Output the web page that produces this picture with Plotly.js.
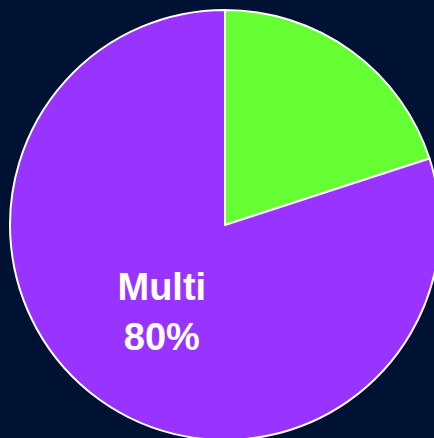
<!DOCTYPE html>
<html>
<head>
<meta charset="utf-8">
<script src="https://cdn.plot.ly/plotly-3.0.1.min.js"></script>
<style>
html,body{margin:0;padding:0;overflow:hidden;background:#001233;width:434px;height:438px;}
#chart{width:450px;height:450px;}
</style>
</head>
<body>
<div id="chart"></div>
<script>
var labels = ["Single", "Multi"];
var values = [20, 80];
var colors = ["#66FF33", "#9933FF"];
var textTemplates = ["", "%{label}<br>%{percent}"];

Plotly.newPlot("chart", [{
  type: "pie",
  labels: labels,
  values: values,
  sort: false,
  direction: "clockwise",
  rotation: 0,
  marker: {colors: colors, line: {color: "#FFFFFF", width: 2}},
  texttemplate: textTemplates,
  textposition: "inside",
  insidetextfont: {family: "Liberation Sans, Arial, sans-serif", size: 38, color: "#FFFFFF", weight: "bold"},
  hoverinfo: "none"
}], {
  width: 450,
  height: 450,
  margin: {l: 10, r: 10, t: 10, b: 10},
  paper_bgcolor: "#001233",
  plot_bgcolor: "#001233",
  showlegend: false
}, {displayModeBar: false, staticPlot: true});
</script>
</body>
</html>
